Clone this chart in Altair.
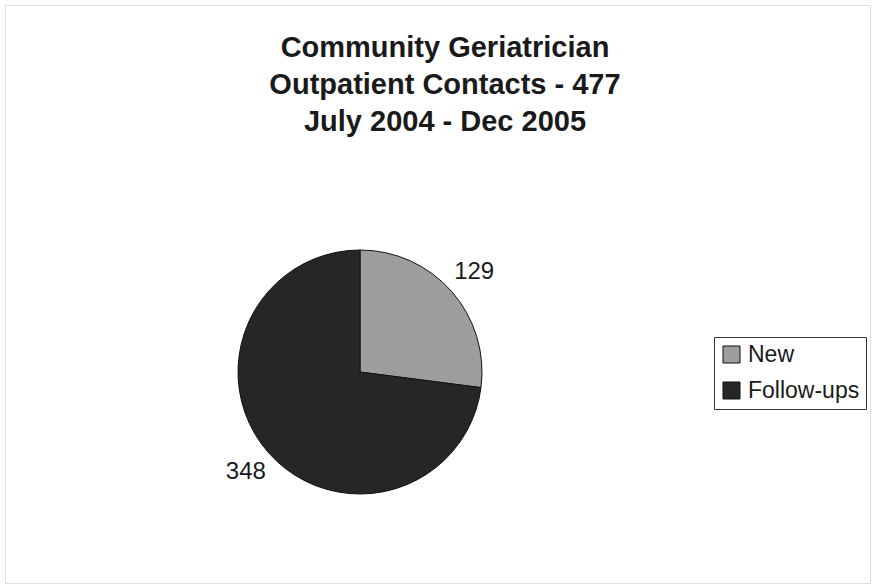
import altair as alt
import pandas as pd

categories = ["New", "Follow-ups"]
values = [129, 348]
order = [0, 1]
colors = ["#9d9d9d", "#262626"]
title_lines = ["Community Geriatrician", "Outpatient Contacts - 477", "July 2004 - Dec 2005"]

df = pd.DataFrame({"category": categories, "value": values, "order": order})
tdf = pd.DataFrame({"t": ["\n".join(title_lines)]})

FONT = "Liberation Sans"
CX, CY, R = 355, 367, 122

base = alt.Chart(df).encode(
    theta=alt.Theta("value:Q", stack=True),
    order=alt.Order("order:Q"),
)

pie = base.mark_arc(radius=R, stroke="#111", strokeWidth=1).encode(
    x=alt.value(CX), y=alt.value(CY),
    color=alt.Color(
        "category:N",
        scale=alt.Scale(domain=categories, range=colors),
        sort=categories,
        legend=alt.Legend(
            title=None, orient="none", legendX=709, legendY=332,
            symbolType="square", symbolSize=290, symbolStrokeColor="#111",
            symbolStrokeWidth=1, labelFontSize=23, labelFont=FONT,
            labelColor="#1a1a1a", rowPadding=12, padding=6,
            strokeColor="#333", labelOffset=5, symbolOpacity=1,
        ),
    ),
)

labels = base.mark_text(radius=152, fontSize=24, font=FONT, color="#1a1a1a").encode(
    x=alt.value(CX), y=alt.value(CY),
    text=alt.Text("value:Q"),
)

title = alt.Chart(tdf).mark_text(
    fontSize=29, fontWeight="bold", font=FONT, color="#1a1a1a",
    lineBreak="\n", lineHeight=37, baseline="alphabetic", align="center",
).encode(x=alt.value(440), y=alt.value(52), text="t:N")

chart = alt.layer(pie, labels, title).properties(
    width=865, height=578,
    padding={"left": 5, "top": 5, "right": 3, "bottom": 4},
).configure_view(stroke="#444", strokeWidth=1.5).configure(background="white")

chart.save("out.html", embed_options={"renderer": "svg", "actions": False})
